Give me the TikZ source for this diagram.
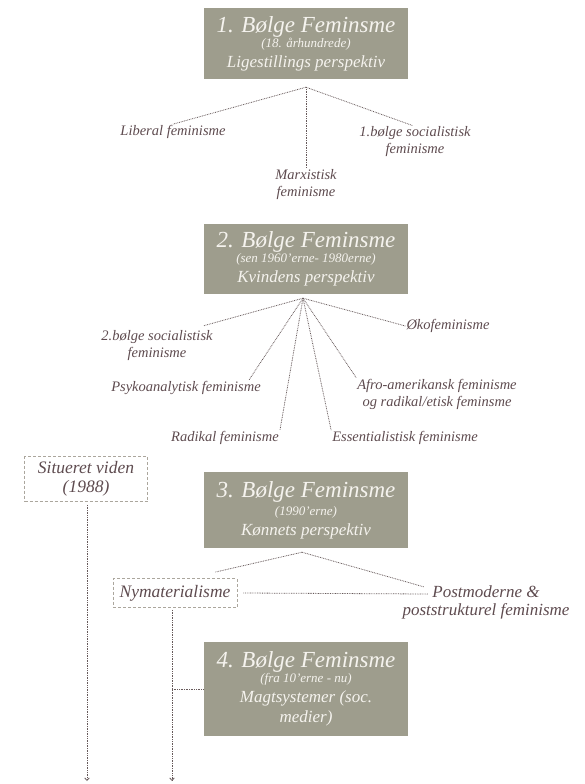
\documentclass[tikz,border=0pt]{standalone}
\usepackage{fontspec}
\setmainfont{Liberation Serif}
\usepackage{tikz}
\usetikzlibrary{positioning, arrows.meta}
\definecolor{wavegray}{HTML}{9E9D8D}
\definecolor{wavetext}{HTML}{F5F3EE}
\definecolor{schooltext}{HTML}{5E4B4F}
\definecolor{linkgray}{HTML}{675A5B}
\definecolor{framegray}{HTML}{ABA69D}
\newcommand{\wavetitle}{\fontsize{23}{25}\selectfont}
\newcommand{\wavesub}{\fontsize{13}{15}\selectfont}
\tikzstyle{wave} = [rectangle, minimum width=204pt, 
inner sep=0pt, text centered, fill=wavegray, text=wavetext, 
font=\itshape\fontsize{17}{20}\selectfont]
\tikzstyle{school} = [inner sep=1pt, text centered, 
text=schooltext, font=\itshape\fontsize{14.5}{17}\selectfont]
\tikzstyle{frame} = [school, draw=framegray, line width=0.8pt, 
dash pattern=on 3pt off 2pt, inner sep=2pt, 
font=\itshape\fontsize{17.5}{19}\selectfont]
\tikzstyle{link} = [draw=linkgray, line width=0.8pt, 
dash pattern=on 0.8pt off 0.9pt]
\tikzstyle{arrow} = [link, -{Straight Barb[length=2.5pt,width=4.5pt]}]

\begin{document}
\begin{tikzpicture}[x=1pt, y=-1pt, align=center]
\useasboundingbox (0,0) rectangle (584,784);

\node (wave1) [wave, minimum height=71pt] at (306,43.5)
{{\wavetitle 1. Bølge Feminsme}\\[-5pt]
{\wavesub (18. århundrede)}\\ Ligestillings perspektiv};

\node (liberal) [school] at (173,132) {Liberal feminisme};
\node (marx) [school] at (306,185) {Marxistisk\\feminisme};
\node (soc1) [school] at (415,142) {1.bølge socialistisk\\feminisme};

\node (wave2) [wave, minimum height=70pt] at (306,259)
{{\wavetitle 2. Bølge Feminsme}\\[-5pt]
{\wavesub (sen 1960'erne- 1980erne)}\\ Kvindens perspektiv};

\node (soc2) [school] at (157,346) {2.bølge socialistisk\\feminisme};
\node (psy) [school] at (186,388) {Psykoanalytisk feminisme};
\node (radikal) [school] at (225,438) {Radikal feminisme};
\node (essent) [school] at (405,438) {Essentialistisk feminisme};
\node (afro) [school] at (437,394)
{Afro-amerikansk feminisme\\og radikal/etisk feminsme};
\node (oko) [school] at (448,326) {Økofeminisme};

\node (situ) [frame, minimum width=123pt, minimum height=45pt] 
at (86,479) {Situeret viden\\(1988)};

\node (wave3) [wave, minimum height=76pt] at (306,510)
{{\wavetitle 3. Bølge Feminsme}\\[-2pt]
{\wavesub (1990'erne)}\\ Kønnets perspektiv};

\node (nymat) [frame, minimum width=124pt, minimum height=29pt] 
at (175,593) {Nymaterialisme};
\node (postmod) [school, font=\itshape\fontsize{17}{18}\selectfont] 
at (486,602) {Postmoderne \&\\poststrukturel feminisme};

\node (wave4) [wave, minimum height=94pt] at (306,689)
{{\wavetitle 4. Bølge Feminsme}\\[-5pt]
{\wavesub (fra 10'erne - nu)}\\ Magtsystemer (soc.\\medier)};

\coordinate (hub1) at ([yshift=-8pt]wave1.south);
\coordinate (hub2) at ([xshift=-3pt,yshift=-4pt]wave2.south);
\coordinate (hub3) at ([xshift=-4pt,yshift=-4pt]wave3.south);
\coordinate (situend) at (87,781);
\coordinate (nymatend) at (172,781);

\draw [link] (hub1) -- (liberal.north);
\draw [link] (hub1) -- (marx.north);
\draw [link] (hub1) -- ([xshift=-2pt]soc1.north);

\draw [link] (hub2) -- ([xshift=-10pt,yshift=4pt]soc2.north east);
\draw [link] (hub2) -- ([xshift=-13pt]psy.north east);
\draw [link] (hub2) -- (radikal.north east);
\draw [link] (hub2) -- (essent.north west);
\draw [link] (hub2) -- (afro.north west);
\draw [link] (hub2) -- (oko.west);

\draw [link] (hub3) -- ([xshift=-22pt,yshift=6pt]nymat.north east);
\draw [link] (hub3) -- ([xshift=23pt,yshift=15pt]postmod.west);
\draw [link] ([xshift=6pt]nymat.east) -- ([xshift=27pt,yshift=8pt]postmod.west);

\draw [arrow] ([xshift=1pt,yshift=-3pt]situ.south) -- (situend);
\draw [arrow] ([xshift=-3pt,yshift=-2pt]nymat.south) -- (nymatend);
\draw [link] (wave4.west -| nymatend) -- (wave4.west);

\end{tikzpicture}
\end{document}
